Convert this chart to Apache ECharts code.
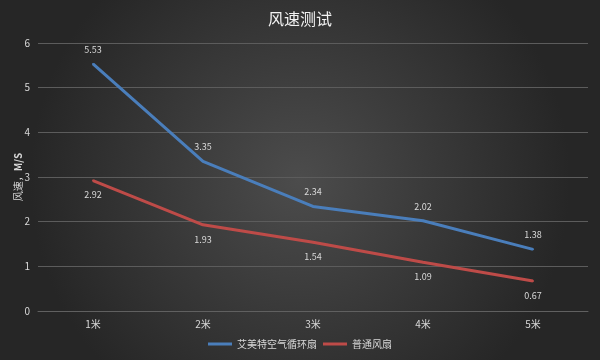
<!DOCTYPE html>
<html><head><meta charset="utf-8">
<script src="https://cdn.jsdelivr.net/npm/echarts@6/dist/echarts.min.js"></script>
<style>html,body{margin:0;padding:0;background:#333}#c{width:600px;height:360px}</style>
</head><body><div id="c"></div>
<script>
var categories = ['1米','2米','3米','4米','5米'];
var seriesNames = ['艾美特空气循环扇','普通风扇'];
var airmateValues = [5.53,3.35,2.34,2.02,1.38];
var normalValues = [2.92,1.93,1.54,1.09,0.67];
var yTicks = [0,1,2,3,4,5,6];

var font = '"Noto Sans CJK SC", "Noto Sans", sans-serif';
var chart = echarts.init(document.getElementById('c'));
chart.setOption({
  backgroundColor: {
    type: 'radial', x: 0.5, y: 0.5, r: 0.75,
    colorStops: [{offset: 0, color: '#4c4c4c'}, {offset: 1, color: '#262626'}]
  },
  animation: false,
  title: {
    text: '风速测试', left: 'center', top: 6,
    textStyle: {color: '#f2f2f2', fontSize: 16, fontWeight: 'normal', fontFamily: font}
  },
  legend: {
    data: seriesNames, bottom: 6, left: 'center',
    itemWidth: 24, itemHeight: 3, itemGap: 6, icon: 'rect',
    textStyle: {color: '#d9d9d9', fontSize: 10, fontFamily: font}
  },
  grid: {left: 38, right: 12, top: 43, bottom: 49},
  xAxis: {
    type: 'category', data: categories, boundaryGap: true,
    axisLine: {lineStyle: {color: '#606060'}},
    axisTick: {show: false},
    axisLabel: {color: '#d9d9d9', fontSize: 10, margin: 8, fontFamily: font}
  },
  yAxis: {
    type: 'value', min: yTicks[0], max: yTicks[yTicks.length-1], interval: 1,
    name: '风速，{b|M/S}', nameLocation: 'middle', nameGap: 15, nameMoveOverlap: false,
    nameTextStyle: {color: '#d9d9d9', fontSize: 10, fontFamily: font,
      rich: {b: {fontWeight: 'bold', fontSize: 10, color: '#d9d9d9', fontFamily: font}}},
    axisLine: {show: false}, axisTick: {show: false},
    axisLabel: {color: '#d9d9d9', fontSize: 10, margin: 8, fontFamily: font},
    splitLine: {lineStyle: {color: '#5c5c5c'}}
  },
  series: [
    {name: seriesNames[0], type: 'line', data: airmateValues, symbol: 'circle', symbolSize: 2, showSymbol: true,
     lineStyle: {width: 3, color: '#4a7ebb'}, itemStyle: {color: '#4a7ebb'},
     label: {show: true, position: 'top', distance: 9, color: '#d9d9d9', fontSize: 9, fontFamily: font}},
    {name: seriesNames[1], type: 'line', data: normalValues, symbol: 'circle', symbolSize: 2, showSymbol: true,
     lineStyle: {width: 3, color: '#be4b48'}, itemStyle: {color: '#be4b48'},
     label: {show: true, position: 'bottom', distance: 9, color: '#d9d9d9', fontSize: 9, fontFamily: font}}
  ]
});
</script></body></html>
